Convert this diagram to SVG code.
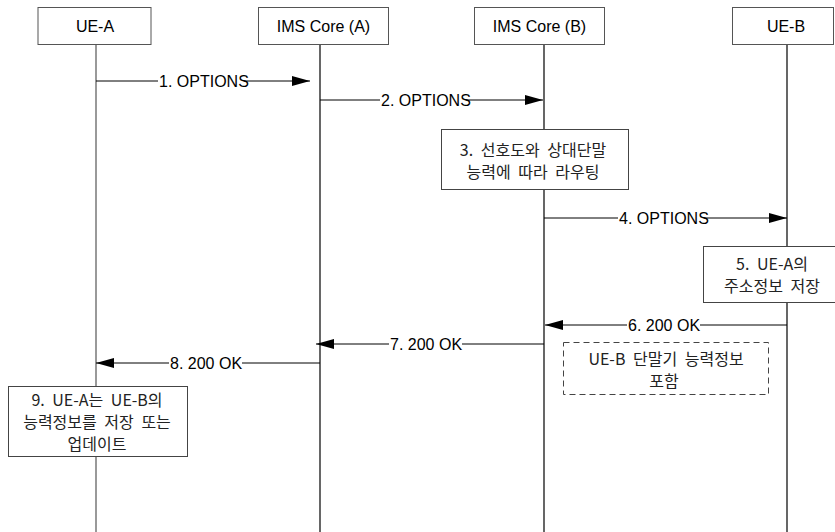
<svg xmlns="http://www.w3.org/2000/svg" width="835" height="532" viewBox="0 0 835 532">
<style>
.hdr{fill:#fff;stroke:#555;stroke-width:1}
.note{fill:#fff;stroke:#444;stroke-width:1}
.dash{fill:#fff;stroke:#444;stroke-width:1;stroke-dasharray:6,4}
.life{stroke:#000;stroke-width:1.2;fill:none}
.msg{stroke:#000;stroke-width:1;fill:none}
.lat{font-family:"Liberation Sans",Arial,sans-serif;font-size:16px;fill:#000}
.kr{font-family:"Noto Sans CJK KR","Liberation Sans",sans-serif;font-size:16px;fill:#222;text-anchor:middle;word-spacing:4px}
.mid{text-anchor:middle}
.bg{fill:#fff;stroke:none}
</style>
<defs>
<marker id="ah" viewBox="0 0 18 10" refX="18" refY="5" markerWidth="18" markerHeight="10" markerUnits="userSpaceOnUse" orient="auto">
<path d="M0,0 L18,5 L0,10 Z" fill="#000"/>
</marker>
</defs>
<g id="lifelines">
<line x1="96" y1="45" x2="96" y2="532" stroke="#777" stroke-width="1.5"/>
<line class="life" x1="320" y1="45" x2="320" y2="532"/>
<line class="life" x1="544" y1="45" x2="544" y2="532"/>
<line class="life" x1="787" y1="45" x2="787" y2="532"/>
</g>
<g id="node-ue-a"><rect class="hdr" x="38" y="7.5" width="113" height="37"/><text class="lat mid" x="95" y="32">UE-A</text></g>
<g id="node-ims-a"><rect class="hdr" x="258.5" y="7.5" width="130" height="37"/><text class="lat mid" x="323.5" y="32">IMS Core (A)</text></g>
<g id="node-ims-b"><rect class="hdr" x="474.5" y="7.5" width="130" height="37"/><text class="lat mid" x="539.5" y="32">IMS Core (B)</text></g>
<g id="node-ue-b"><rect class="hdr" x="732.5" y="7.5" width="101" height="37"/><text class="lat mid" x="786" y="32">UE-B</text></g>
<g id="connectors">
<line class="msg" x1="96" y1="81" x2="310" y2="81" marker-end="url(#ah)"/>
<rect class="bg" x="158" y="72" width="86" height="18"/>
<text class="lat" x="159" y="87">1. OPTIONS</text>
<line class="msg" x1="320" y1="100" x2="543" y2="100" marker-end="url(#ah)"/>
<rect class="bg" x="380" y="91" width="86" height="18"/>
<text class="lat" x="381" y="106">2. OPTIONS</text>
<line class="msg" x1="544" y1="218" x2="787" y2="218" marker-end="url(#ah)"/>
<rect class="bg" x="618" y="209" width="86" height="18"/>
<text class="lat" x="619" y="224">4. OPTIONS</text>
<line class="msg" x1="787" y1="325" x2="545" y2="325" marker-end="url(#ah)"/>
<rect class="bg" x="627" y="316" width="73" height="18"/>
<text class="lat" x="628" y="331">6. 200 OK</text>
<line class="msg" x1="544" y1="344" x2="316" y2="344" marker-end="url(#ah)"/>
<rect class="bg" x="389" y="335" width="73" height="18"/>
<text class="lat" x="390" y="350">7. 200 OK</text>
<line class="msg" x1="320" y1="363" x2="96" y2="363" marker-end="url(#ah)"/>
<rect class="bg" x="169" y="354" width="73" height="18"/>
<text class="lat" x="170" y="369">8. 200 OK</text>
</g>
<g id="node-step3"><rect class="note" x="441.5" y="129.5" width="187" height="60"/>
<text class="kr" x="533" y="156">3. 선호도와 상대단말</text>
<text class="kr" x="533" y="178">능력에 따라 라우팅</text></g>
<g id="node-step5"><rect class="note" x="703.5" y="246.5" width="138" height="56"/>
<text class="kr" x="772" y="270">5. UE-A의</text>
<text class="kr" x="772" y="292">주소정보 저장</text></g>
<g id="node-note"><rect class="dash" x="563.5" y="342.5" width="205" height="52"/>
<text class="kr" x="666" y="365">UE-B 단말기 능력정보</text>
<text class="kr" x="664" y="387">포함</text></g>
<g id="node-step9"><rect class="note" x="8.5" y="386.5" width="179" height="70"/>
<text class="kr" x="97" y="406">9. UE-A는 UE-B의</text>
<text class="kr" x="97" y="428">능력정보를 저장 또는</text>
<text class="kr" x="97" y="450">업데이트</text></g>
</svg>
